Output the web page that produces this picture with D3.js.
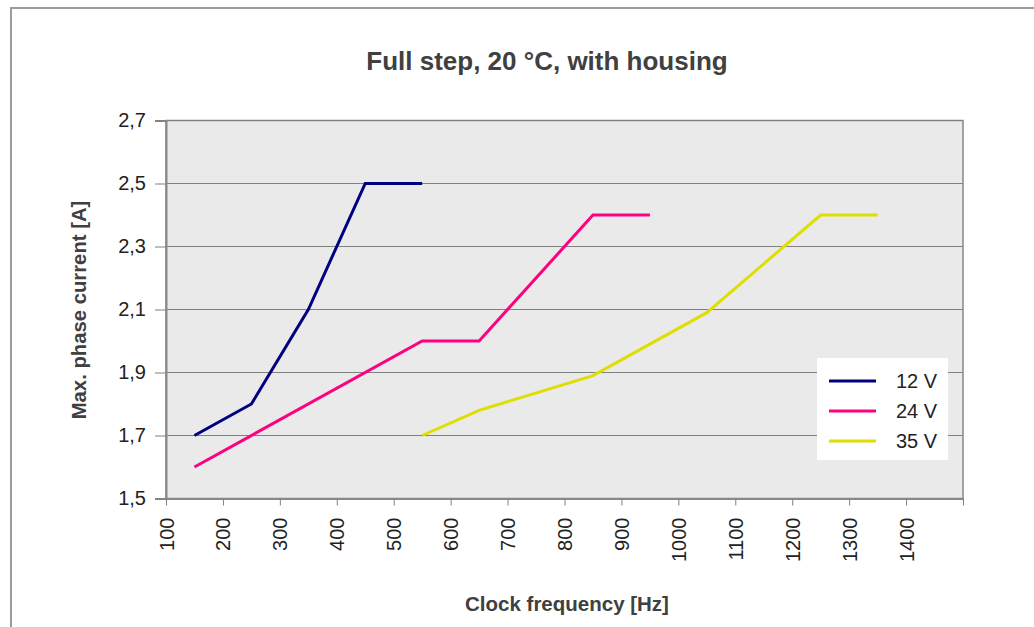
<!DOCTYPE html>
<html><head><meta charset="utf-8">
<script src="https://cdn.jsdelivr.net/npm/d3@7"></script>
<style>body{margin:0;background:#fff;font-family:"Liberation Sans",Arial,sans-serif;}</style>
</head><body><svg id="c" width="1034" height="627"></svg>
<script>
const seriesNames = ["12 V", "24 V", "35 V"];
const seriesColors = ["#000080", "#ff0080", "#dede00"];
const freq12 = [150, 250, 350, 450, 550];
const cur12 = [1.7, 1.8, 2.1, 2.5, 2.5];
const freq24 = [150, 550, 650, 850, 950];
const cur24 = [1.6, 2.0, 2.0, 2.4, 2.4];
const freq35 = [550, 650, 850, 1050, 1250, 1350];
const cur35 = [1.7, 1.78, 1.89, 2.09, 2.4, 2.4];
const xTicks = [100,200,300,400,500,600,700,800,900,1000,1100,1200,1300,1400,1500];
const yTicks = [1.5,1.7,1.9,2.1,2.3,2.5,2.7];

const svg = d3.select("#c");
const L=166, R=963, T=120.5, B=498.5;
const x = d3.scaleLinear().domain([100,1500]).range([L,R]);
const y = d3.scaleLinear().domain([1.5,2.7]).range([B,T]);
const txt = "#404040";
const ff = "Liberation Sans, Arial, sans-serif";

// outer border
svg.append("rect").attr("x",11).attr("y",8).attr("width",1034).attr("height",640)
  .attr("fill","none").attr("stroke","#9c9c9c").attr("stroke-width",2);

// plot area
svg.append("rect").attr("x",L).attr("y",T).attr("width",R-L).attr("height",B-T)
  .attr("fill","#eaeaea").attr("stroke","#888").attr("stroke-width",1.5);

// grid
svg.append("g").selectAll("line").data(yTicks.slice(1)).join("line")
  .attr("x1",L).attr("x2",R).attr("y1",d=>y(d)).attr("y2",d=>y(d))
  .attr("stroke","#808080").attr("stroke-width",1);

// y axis
const fmt = d => d3.format(".1f")(d).replace(".", ",");
const ya = svg.append("g").attr("transform",`translate(${L},0)`)
  .call(d3.axisLeft(y).tickValues(yTicks).tickFormat(fmt).tickSize(11).tickPadding(9));
ya.select(".domain").attr("stroke","#888").attr("stroke-width",2);
ya.selectAll(".tick line").attr("stroke","#808080");
ya.selectAll("text").attr("font-size",20).attr("fill","#222").attr("font-family",ff);

// x axis
const xa = svg.append("g").attr("transform",`translate(0,${B})`)
  .call(d3.axisBottom(x).tickValues(xTicks).tickFormat(d=> d===1500?"":d).tickSize(7).tickSizeOuter(0));
xa.select(".domain").attr("stroke","#888").attr("stroke-width",2);
xa.selectAll(".tick line").attr("stroke","#808080");
xa.selectAll("text").attr("font-size",20).attr("fill","#222").attr("font-family",ff)
  .attr("transform","rotate(-90)").attr("text-anchor","end").attr("dy","0.35em").attr("x",-19).attr("y",0);

// lines
const data = [[freq12,cur12],[freq24,cur24],[freq35,cur35]];
const line = d3.line().x(d=>x(d[0])).y(d=>y(d[1]));
data.forEach((s,i)=>{
  const pts = s[0].map((f,j)=>[f,s[1][j]]);
  svg.append("path").datum(pts).attr("d",line).attr("fill","none")
    .attr("stroke",seriesColors[i]).attr("stroke-width",3);
});

// legend
const lg = svg.append("g");
lg.append("rect").attr("x",817).attr("y",358).attr("width",131).attr("height",102).attr("fill","#fff");
seriesNames.forEach((n,i)=>{
  const yy = 381 + i*30;
  lg.append("line").attr("x1",829).attr("x2",876).attr("y1",yy).attr("y2",yy)
    .attr("stroke",seriesColors[i]).attr("stroke-width",3);
  lg.append("text").attr("x",896).attr("y",yy).attr("dy","0.35em").attr("font-size",20)
    .attr("fill","#222").attr("font-family",ff).text(n);
});

// titles
svg.append("text").attr("x",547).attr("y",70).attr("text-anchor","middle")
  .attr("font-size",26).attr("font-weight","bold").attr("fill",txt).attr("font-family",ff).text("Full step, 20 °C, with housing");
svg.append("text").attr("x",567).attr("y",611).attr("text-anchor","middle")
  .attr("font-size",20.5).attr("font-weight","bold").attr("fill",txt).attr("font-family",ff).text("Clock frequency [Hz]");
svg.append("text").attr("transform",`translate(86,310) rotate(-90)`).attr("text-anchor","middle")
  .attr("font-size",20.3).attr("font-weight","bold").attr("fill",txt).attr("font-family",ff).text("Max. phase current [A]");
</script></body></html>
